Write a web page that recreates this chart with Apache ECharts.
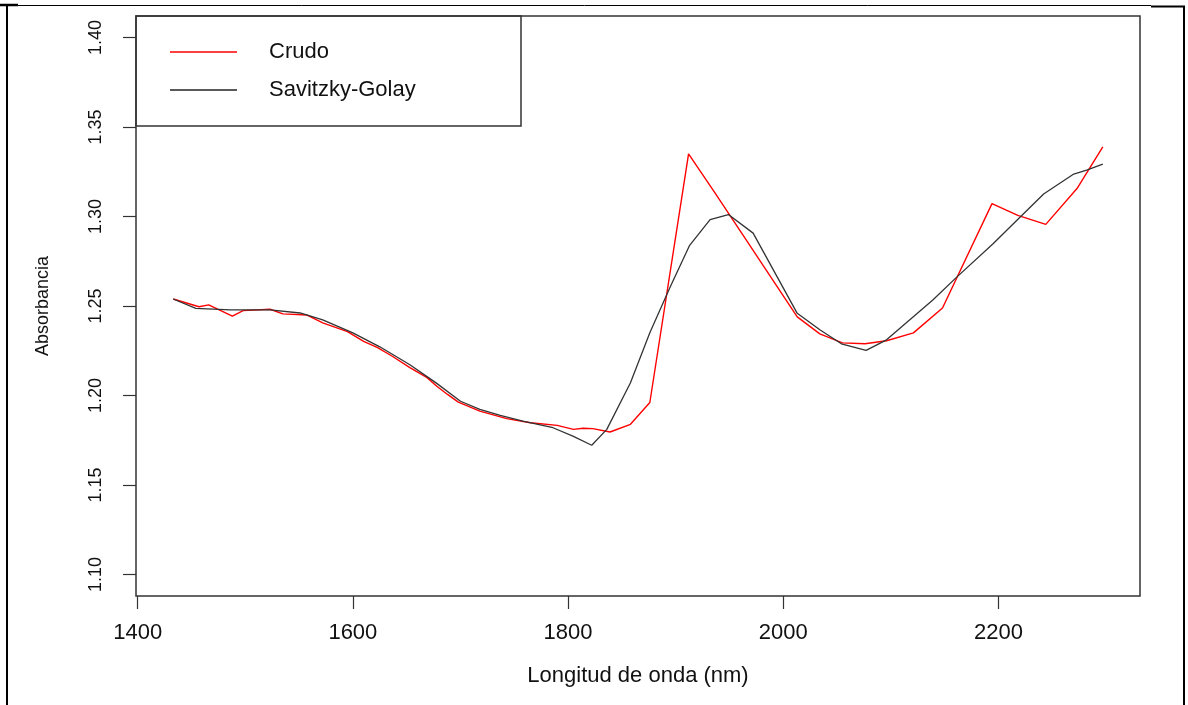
<!DOCTYPE html>
<html>
<head>
<meta charset="utf-8">
<script src="https://cdn.jsdelivr.net/npm/echarts@6/dist/echarts.min.js"></script>
<style>
html,body{margin:0;padding:0;background:#fff;}
#chart{width:1188px;height:705px;}
</style>
</head>
<body>
<div id="chart"></div>
<script>
// ---- data ----
const crudoNm  = [1433,1457,1466,1488,1498,1523,1535,1557,1572,1595,1610,1623,1637,1653,1669,1678,1688,1698,1718,1743,1765,1790,1805,1814,1823,1839,1858,1876,1912,1937,2013,2034,2055,2076,2096,2121,2148,2194,2218,2244,2273,2297];
const crudoAbs = [1.2539,1.2496,1.2506,1.2444,1.2474,1.2482,1.2456,1.2450,1.2406,1.2357,1.2302,1.2267,1.2218,1.2156,1.2100,1.2052,1.2006,1.1963,1.1913,1.1871,1.1848,1.1833,1.1811,1.1817,1.1815,1.1796,1.1839,1.1961,1.3350,1.3128,1.2439,1.2344,1.2294,1.2289,1.2306,1.2350,1.2489,1.3072,1.3006,1.2956,1.3156,1.3389];
const sgNm  = [1433,1454,1486,1523,1551,1572,1600,1625,1653,1677,1700,1718,1737,1758,1786,1805,1822,1836,1858,1876,1895,1913,1932,1949,1972,2013,2034,2054,2077,2096,2139,2161,2195,2220,2242,2270,2282,2297];
const sgAbs = [1.2539,1.2487,1.2478,1.2478,1.2461,1.2422,1.2350,1.2272,1.2172,1.2072,1.1968,1.1922,1.1889,1.1857,1.1820,1.1772,1.1722,1.1811,1.2071,1.2350,1.2607,1.2839,1.2982,1.3011,1.2907,1.2459,1.2367,1.2289,1.2252,1.2311,1.2533,1.2660,1.2848,1.2996,1.3126,1.3237,1.3259,1.3293];
const xTicks = [1400,1600,1800,2000,2200];
const yTicks = [1.10,1.15,1.20,1.25,1.30,1.35,1.40];
const seriesNames = ['Crudo','Savitzky-Golay'];
const xTitle = 'Longitud de onda (nm)';
const yTitle = 'Absorbancia';

const chart = echarts.init(document.getElementById('chart'), null, {renderer:'canvas'});
const FONT = 'Liberation Sans, Arial, sans-serif';
const zip = (a,b) => a.map((v,i)=>[v,b[i]]);

chart.setOption({
  animation:false,
  backgroundColor:'#fff',
  grid:{left:136,right:48,top:16,bottom:109,show:true,borderColor:'#333',borderWidth:1.5,backgroundColor:'transparent'},
  xAxis:{
    type:'value', min:1398.44, max:2331.56,
    name:xTitle, nameLocation:'middle', nameGap:69,
    nameTextStyle:{color:'#111',fontFamily:FONT,fontSize:22},
    axisLine:{show:false},
    splitLine:{show:false},
    axisTick:{show:true,length:13,customValues:xTicks,lineStyle:{color:'#333',width:1.2}},
    axisLabel:{customValues:xTicks,margin:26,color:'#111',fontFamily:FONT,fontSize:22,
      formatter:v=>String(Math.round(v))}
  },
  yAxis:{
    type:'value', min:1.088, max:1.412,
    name:yTitle, nameLocation:'middle', nameGap:84,
    nameTextStyle:{color:'#111',fontFamily:FONT,fontSize:18},
    axisLine:{show:false},
    splitLine:{show:false},
    axisTick:{show:true,length:13,customValues:yTicks,lineStyle:{color:'#333',width:1.2}},
    axisLabel:{customValues:yTicks,rotate:90,margin:31,color:'#111',fontFamily:FONT,fontSize:18,
      formatter:v=>Number(v).toFixed(2)}
  },
  legend:{
    orient:'vertical', left:170, top:40, padding:0,
    icon:'rect', itemWidth:67, itemHeight:1.5, itemGap:14,
    data:seriesNames,
    textStyle:{color:'#111',fontFamily:FONT,fontSize:22,lineHeight:24,padding:[0,0,0,27]}
  },
  graphic:[
    {type:'rect',shape:{x:136,y:16,width:385,height:110},style:{fill:'none',stroke:'#333',lineWidth:1.5},z:100},
    {type:'line',shape:{x1:7,y1:5,x2:7,y2:705},style:{stroke:'#000',lineWidth:2},z:100},
    {type:'line',shape:{x1:0,y1:5,x2:18,y2:5},style:{stroke:'#000',lineWidth:2.5},z:100},
    {type:'line',shape:{x1:18,y1:5.5,x2:1151,y2:5.5},style:{stroke:'#000',lineWidth:1},z:100},
    {type:'line',shape:{x1:1151,y1:6.5,x2:1185,y2:6.5},style:{stroke:'#000',lineWidth:2},z:100},
    {type:'line',shape:{x1:1184,y1:6,x2:1184,y2:705},style:{stroke:'#000',lineWidth:2},z:100}
  ],
  series:[
    {name:seriesNames[0],type:'line',data:zip(crudoNm,crudoAbs),showSymbol:false,symbol:'none',
     lineStyle:{color:'#ff0000',width:1.4},itemStyle:{color:'#ff0000'},z:2},
    {name:seriesNames[1],type:'line',data:zip(sgNm,sgAbs),showSymbol:false,symbol:'none',
     lineStyle:{color:'#333333',width:1.3},itemStyle:{color:'#222222'},z:3}
  ]
});
</script>
</body>
</html>
